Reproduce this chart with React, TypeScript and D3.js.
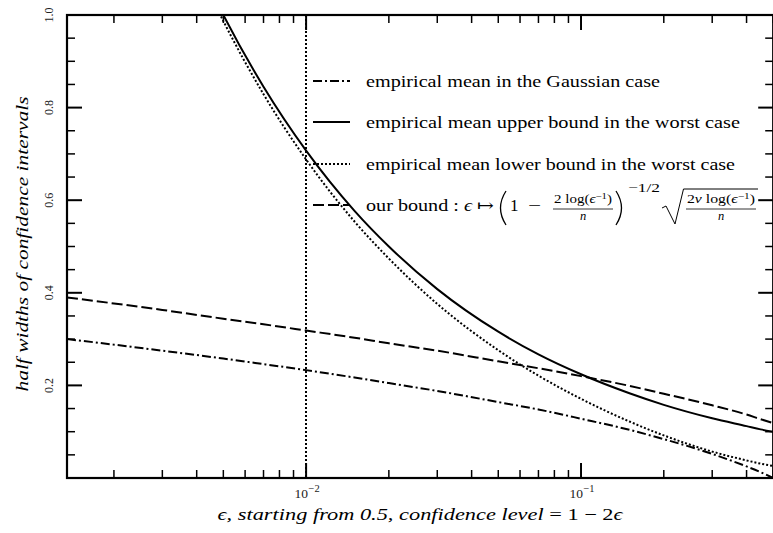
import React from "react";
import * as d3 from "d3";

const W = 773;
const H = 533;

// epsilon sample points and curve values
const eps = [0.00135, 0.002, 0.003, 0.005, 0.007, 0.01, 0.015, 0.02, 0.03, 0.05, 0.07, 0.1, 0.15, 0.2, 0.3, 0.4, 0.45, 0.5];
const gaussian = [0.3, 0.288, 0.275, 0.258, 0.246, 0.233, 0.217, 0.205, 0.188, 0.164, 0.148, 0.128, 0.104, 0.084, 0.052, 0.025, 0.0126, 0.0];
const ourBound = [0.39, 0.377, 0.363, 0.344, 0.332, 0.3185, 0.303, 0.291, 0.275, 0.252, 0.237, 0.22, 0.199, 0.182, 0.157, 0.137, 0.127, 0.1185];
const epsWorst = [0.004, 0.005, 0.007, 0.01, 0.015, 0.02, 0.03, 0.05, 0.07, 0.1, 0.15, 0.2, 0.3, 0.4, 0.45, 0.5];
const upperWorst = [1.118, 1.0, 0.845, 0.707, 0.577, 0.5, 0.408, 0.316, 0.267, 0.224, 0.183, 0.158, 0.129, 0.112, 0.105, 0.1];
const lowerWorst = [1.106, 0.987, 0.829, 0.688, 0.554, 0.474, 0.376, 0.276, 0.221, 0.171, 0.122, 0.092, 0.057, 0.038, 0.031, 0.026];
const epsMarker = 0.01;
const yLabels = [0.2, 0.4, 0.6, 0.8, 1.0];
const xLabels = [0.01, 0.1];

const legendLabels = [
  "empirical mean in the Gaussian case",
  "empirical mean upper bound in the worst case",
  "empirical mean lower bound in the worst case",
];
const legendWidths = [294, 374, 369];

const FONT = "'Liberation Serif', 'DejaVu Serif', serif";

const styles = {
  dashdot: "9 3 2 3",
  solid: "none",
  dotted: "2 2",
  dashed: "11 4",
};

export default function App() {
  const left = 67, right = 773.2, top = 15, bottom = 478;
  const x = d3.scaleLog().domain([0.00135, 0.5]).range([left, right]);
  const y = d3.scaleLinear().domain([0, 1]).range([bottom, top]);

  const line = (xs: number[], ys: number[]) =>
    d3.line<number>()
      .x((_, i) => x(xs[i]))
      .y((d) => y(d))
      .curve(d3.curveMonotoneX)(ys) || "";

  const xTicks = x.ticks();
  const isMajorX = (t: number) => Math.abs(Math.log10(t) - Math.round(Math.log10(t))) < 1e-6;
  const yTicks = y.ticks(20);
  const isMajorY = (t: number) => Math.abs(t * 5 - Math.round(t * 5)) < 1e-6;

  const series = [
    { d: line(eps, gaussian), dash: styles.dashdot },
    { d: line(epsWorst, upperWorst), dash: styles.solid },
    { d: line(epsWorst, lowerWorst), dash: styles.dotted },
    { d: line(eps, ourBound), dash: styles.dashed },
  ];

  const rowY = [81, 122, 164, 205];
  const hx0 = 313, hx1 = 350, tx = 366;
  const r4 = rowY[3];
  const xm = Math.round(x(epsMarker));

  return (
    <svg width={W} height={H} style={{ position: "absolute", left: 0, top: 0, background: "#fff" }} fontFamily={FONT}>
      <defs>
        <clipPath id="plot">
          <rect x={left} y={top} width={right - left} height={bottom - top} />
        </clipPath>
      </defs>
      <rect width={W} height={H} fill="#fff" />

      {/* curves */}
      <g clipPath="url(#plot)" fill="none" stroke="#000" strokeWidth={2}>
        {series.map((s, i) => (
          <path key={i} d={s.d} strokeDasharray={s.dash} />
        ))}
        <line x1={xm} x2={xm} y1={top} y2={bottom} strokeDasharray={styles.dotted} />
      </g>

      {/* ticks */}
      <g stroke="#000">
        {xTicks.map((t, i) => {
          const L = isMajorX(t) ? 15 : 8;
          const sw = isMajorX(t) ? 2 : 1.5;
          return (
            <g key={i}>
              <line x1={x(t)} x2={x(t)} y1={bottom} y2={bottom - L} strokeWidth={sw} />
              <line x1={x(t)} x2={x(t)} y1={top} y2={top + L} strokeWidth={sw} />
            </g>
          );
        })}
        {yTicks.map((t, i) => {
          const L = isMajorY(t) ? 15 : 8;
          const sw = isMajorY(t) ? 2 : 1.5;
          return (
            <g key={i}>
              <line x1={left} x2={left + L} y1={y(t)} y2={y(t)} strokeWidth={sw} />
              <line x1={right} x2={right - L} y1={y(t)} y2={y(t)} strokeWidth={sw} />
            </g>
          );
        })}
      </g>

      {/* spines */}
      <rect x={left} y={top} width={right - left} height={bottom - top} fill="none" stroke="#000" strokeWidth={2.2} />

      {/* y tick labels */}
      {yLabels.map((v) => (
        <text key={v} transform={`translate(53,${y(v)}) rotate(-90)`} textAnchor="middle" fontSize={12} fill="#222">
          {v.toFixed(1)}
        </text>
      ))}

      {/* x tick labels */}
      {xLabels.map((v) => (
        <text key={v} x={x(v) + 1} y={498} fontSize={13.5} fill="#222" textAnchor="middle">
          10<tspan dx={0.5} dy={-6} fontSize={10.5}>{"\u2212" + Math.round(-Math.log10(v))}</tspan>
        </text>
      ))}

      {/* axis labels */}
      <text x={(left + right) / 2} y={520} textAnchor="middle" fontSize={16.5} fontStyle="italic" textLength={405} lengthAdjust="spacingAndGlyphs">
        ϵ, starting from 0.5, confidence level <tspan fontStyle="normal">= 1 − 2</tspan>ϵ
      </text>
      <text transform={`translate(28,244) rotate(-90)`} textAnchor="middle" fontSize={17} fontStyle="italic" textLength={295} lengthAdjust="spacingAndGlyphs">
        half widths of confidence intervals
      </text>

      {/* legend */}
      <g stroke="#000" strokeWidth={2}>
        {[styles.dashdot, styles.solid, styles.dotted, styles.dashed].map((dash, i) => (
          <line key={i} x1={hx0} x2={hx1} y1={rowY[i]} y2={rowY[i]} strokeDasharray={dash} />
        ))}
      </g>
      {legendLabels.map((t, i) => (
        <text key={i} x={tx} y={rowY[i] + 6} fontSize={17} textLength={legendWidths[i]} lengthAdjust="spacingAndGlyphs">
          {t}
        </text>
      ))}
      <g fontSize={17}>
        <text x={tx} y={r4 + 6} textLength={128} lengthAdjust="spacingAndGlyphs">
          our bound : <tspan fontStyle="italic">ϵ</tspan> ↦
        </text>
        <path d={`M506,${r4 - 14} Q495,${r4 + 3} 506,${r4 + 20}`} fill="none" stroke="#000" strokeWidth={1.3} />
        <text x={510} y={r4 + 6}>1</text>
        <text x={528} y={r4 + 6} textLength={13} lengthAdjust="spacingAndGlyphs">−</text>
        <text x={583} y={r4 - 2} fontSize={12.5} textAnchor="middle" textLength={58} lengthAdjust="spacingAndGlyphs">
          2 log(<tspan fontStyle="italic">ϵ</tspan><tspan dy={-4} fontSize={9}>−1</tspan><tspan dy={4}>)</tspan>
        </text>
        <line x1={553} x2={613} y1={r4 + 4} y2={r4 + 4} stroke="#000" strokeWidth={0.8} />
        <text x={583} y={r4 + 15} fontSize={12.5} textAnchor="middle" fontStyle="italic">n</text>
        <path d={`M616,${r4 - 14} Q627,${r4 + 3} 616,${r4 + 20}`} fill="none" stroke="#000" strokeWidth={1.3} />
        <text x={628} y={r4 - 13} fontSize={12.5} textLength={32} lengthAdjust="spacingAndGlyphs">−1/2</text>
        <path d={`M662,${r4 + 3} L666,${r4 + 1} L675,${r4 + 19} L683.5,${r4 - 16} L758,${r4 - 16}`} fill="none" stroke="#000" strokeWidth={1} />
        <text x={721} y={r4 - 2} fontSize={12.5} textAnchor="middle" textLength={68} lengthAdjust="spacingAndGlyphs">
          2<tspan fontStyle="italic">v</tspan> log(<tspan fontStyle="italic">ϵ</tspan><tspan dy={-4} fontSize={9}>−1</tspan><tspan dy={4}>)</tspan>
        </text>
        <line x1={686} x2={756} y1={r4 + 4} y2={r4 + 4} stroke="#000" strokeWidth={0.8} />
        <text x={721} y={r4 + 15} fontSize={12.5} textAnchor="middle" fontStyle="italic">n</text>
      </g>
    </svg>
  );
}
